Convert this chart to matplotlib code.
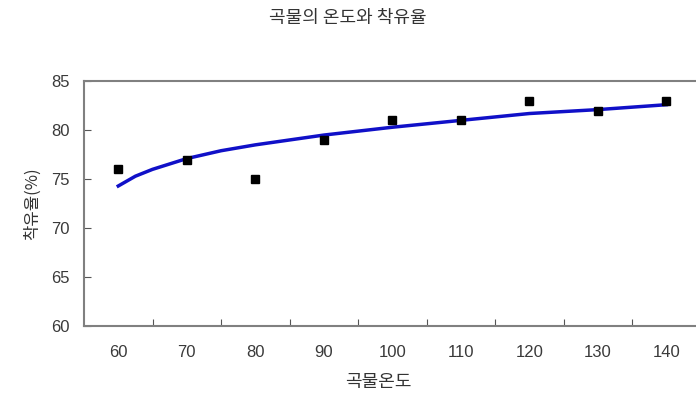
import matplotlib.pyplot as plt

plt.rcParams['font.family'] = ['Liberation Sans', 'Noto Sans CJK KR', 'DejaVu Sans']

temps = ['60', '70', '80', '90', '100', '110', '120', '130', '140']
rate = [76, 77, 75, 79, 81, 81, 83, 82, 83]
# trend line (denser near the steep start)
trend_pos = [0, 0.25, 0.5, 1, 1.5, 2, 2.5, 3, 4, 5, 6, 7, 8]
trend = [74.3, 75.3, 76.0, 77.1, 77.9, 78.5, 79.0, 79.5, 80.3, 81.0, 81.7, 82.1, 82.6]

fig = plt.figure(figsize=(6.96, 4.04), dpi=100)
ax = fig.add_axes([0.1207, 0.193, 0.886, 0.606])

pos = range(len(temps))
ax.plot(trend_pos, trend, color='#1010c8', linewidth=2.5, zorder=2)
ax.plot(pos, rate, 's', color='black', markersize=6, zorder=3)

ax.set_xlim(-0.5, 8.5)
ax.set_ylim(60, 85)
ax.set_yticks([60, 65, 70, 75, 80, 85])
ax.set_xticks([p + 0.5 for p in range(len(temps) - 1)])
ax.set_xticklabels([])
ax.set_xticks(list(pos), labels=temps, minor=True)
ax.tick_params(axis='x', which='minor', length=0, pad=14, labelsize=12, labelcolor='#3a3a3a')
ax.tick_params(axis='x', which='major', direction='in', length=5, color='#555555')
ax.tick_params(axis='y', direction='in', length=5, color='#555555', pad=10, labelsize=12, labelcolor='#3a3a3a')

for s in ax.spines.values():
    s.set_color('#808080')
    s.set_linewidth(1.5)

ax.set_xlabel('곡물온도', fontsize=13, color='#333333', labelpad=10,
              family=['Noto Sans CJK KR', 'DejaVu Sans'])
ax.xaxis.set_label_coords(0.477, -0.19)
ax.set_ylabel('착유율(%)', fontsize=12, color='#333333', labelpad=8,
              family=['Noto Sans CJK KR', 'DejaVu Sans'])
fig.text(0.5, 0.955, '곡물의 온도와 착유율', ha='center', va='center', fontsize=13,
         color='#333333', family=['Noto Sans CJK KR', 'DejaVu Sans'])

fig.savefig('out.png', dpi=100)
